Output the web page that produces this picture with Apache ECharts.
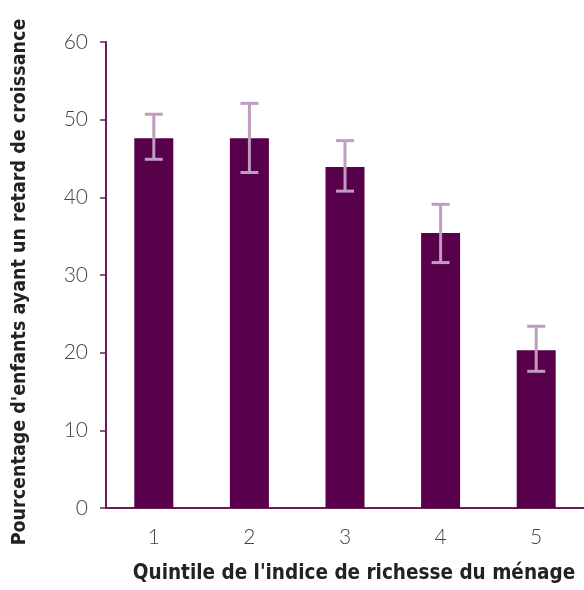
<!DOCTYPE html>
<html>
<head>
<meta charset="utf-8">
<script src="https://cdn.jsdelivr.net/npm/echarts@6/dist/echarts.min.js"></script>
<style>
  html, body { margin: 0; padding: 0; background: #fff; }
  #main { width: 584px; height: 590px; }
</style>
</head>
<body>
<div id="main"></div>
<script>
// quintiles and values
var quintiles = ['1', '2', '3', '4', '5'];
var stunting = [47.6, 47.6, 43.9, 35.4, 20.3];
var errLow = [44.9, 43.2, 40.8, 31.6, 17.6];
var errHigh = [50.7, 52.1, 47.3, 39.1, 23.4];

var axisColor = '#6a1b5c';
var narrow = '"DejaVu Sans Condensed", "Liberation Sans Narrow", sans-serif';

var errData = quintiles.map(function (q, i) {
  return [i, errLow[i], errHigh[i]];
});

var chart = echarts.init(document.getElementById('main'));
chart.setOption({
  animation: false,
  grid: { left: 106, top: 42, width: 481, height: 466, containLabel: false },
  graphic: [
    {
      type: 'text',
      x: 20, y: 282,
      rotation: Math.PI / 2,
      style: {
        text: "Pourcentage d'enfants ayant un retard de croissance",
        fill: '#222', fontSize: 19.5, fontWeight: 'bold', fontFamily: narrow,
        align: 'center', verticalAlign: 'middle'
      }
    },
    {
      type: 'text',
      x: 354, y: 574,
      style: {
        text: "Quintile de l'indice de richesse du ménage",
        fill: '#222', fontSize: 20.5, fontWeight: 'bold', fontFamily: narrow,
        align: 'center', verticalAlign: 'middle'
      }
    }
  ],
  xAxis: {
    type: 'category',
    data: quintiles,
    axisLine: { lineStyle: { color: axisColor, width: 2 } },
    axisTick: { show: false },
    axisLabel: { color: '#444', fontSize: 21, fontFamily: 'Lato, sans-serif', fontWeight: 300, margin: 19 }
  },
  yAxis: {
    type: 'value',
    min: 0,
    max: 60,
    interval: 10,
    splitLine: { show: false },
    axisLine: { show: true, lineStyle: { color: axisColor, width: 2 } },
    axisTick: { show: true, length: 6, lineStyle: { color: axisColor, width: 1.5 } },
    axisLabel: { color: '#444', fontSize: 21, fontFamily: 'Lato, sans-serif', fontWeight: 300, margin: 18 }
  },
  series: [
    {
      type: 'bar',
      data: stunting,
      barWidth: 39,
      itemStyle: { color: '#58004a' }
    },
    {
      type: 'custom',
      data: errData,
      z: 10,
      renderItem: function (params, api) {
        var x = api.value(0);
        var lo = api.coord([x, api.value(1)]);
        var hi = api.coord([x, api.value(2)]);
        var hw = 9;
        var style = { stroke: '#bf9cc0', lineWidth: 3 };
        return {
          type: 'group',
          children: [
            { type: 'line', shape: { x1: lo[0], y1: lo[1], x2: hi[0], y2: hi[1] }, style: style },
            { type: 'line', shape: { x1: hi[0] - hw, y1: hi[1], x2: hi[0] + hw, y2: hi[1] }, style: style },
            { type: 'line', shape: { x1: lo[0] - hw, y1: lo[1], x2: lo[0] + hw, y2: lo[1] }, style: style }
          ]
        };
      }
    }
  ]
});
</script>
</body>
</html>
